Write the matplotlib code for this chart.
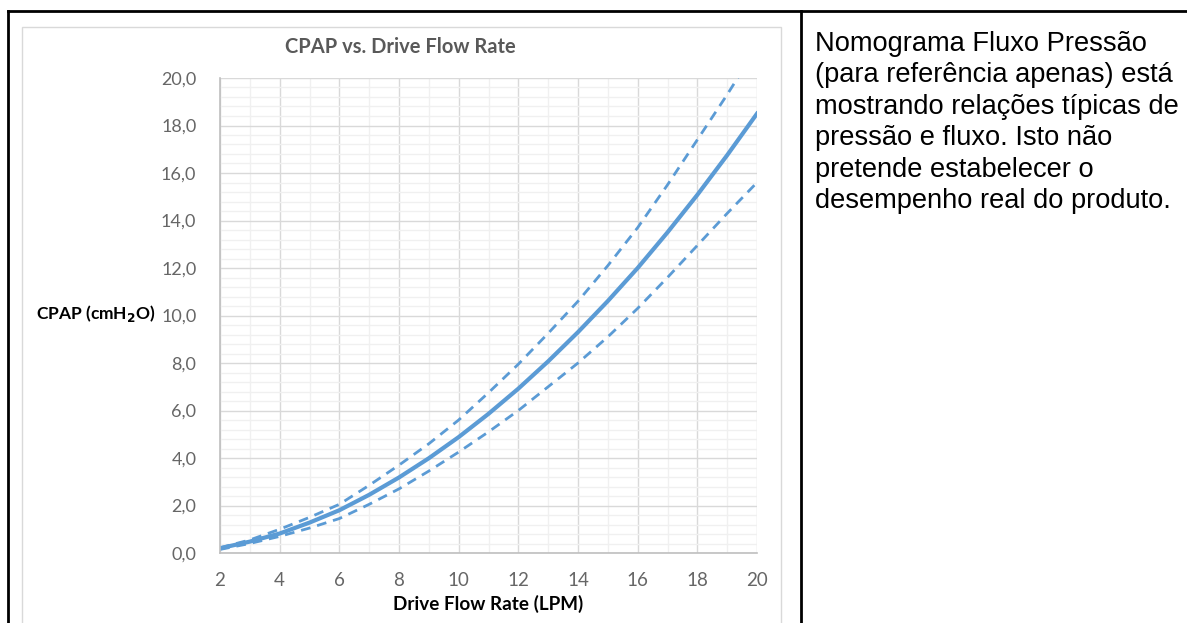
import matplotlib.pyplot as plt
from matplotlib.lines import Line2D
from matplotlib.patches import Rectangle
from matplotlib.ticker import MultipleLocator

# values (LPM -> cmH2O)
flow = [2, 3, 4, 5, 6, 7, 8, 9, 10, 11, 12, 13, 14, 15, 16, 17, 18, 19, 20]
cpap_mid = [0.2, 0.48, 0.82, 1.28, 1.8, 2.45, 3.18, 3.99, 4.88, 5.86, 6.92,
            8.07, 9.3, 10.61, 12.0, 13.5, 15.08, 16.75, 18.5]
cpap_high = [0.22, 0.55, 1.0, 1.5, 2.05, 2.85, 3.7, 4.6, 5.6, 6.75, 7.95,
             9.25, 10.6, 12.1, 13.7, 15.5, 17.4, 19.3, 21.3]
cpap_low = [0.15, 0.4, 0.7, 1.05, 1.45, 2.05, 2.7, 3.45, 4.25, 5.1, 6.0,
            7.0, 8.0, 9.1, 10.3, 11.6, 12.95, 14.3, 15.6]

x_ticks = [2, 4, 6, 8, 10, 12, 14, 16, 18, 20]
y_ticks = [0, 2, 4, 6, 8, 10, 12, 14, 16, 18, 20]
y_labels = ['0,0', '2,0', '4,0', '6,0', '8,0', '10,0', '12,0', '14,0', '16,0', '18,0', '20,0']

note = ("Nomograma Fluxo Pressão\n"
        "(para referência apenas) está\n"
        "mostrando relações típicas de\n"
        "pressão e fluxo. Isto não\n"
        "pretende estabelecer o\n"
        "desempenho real do produto.")

W, H = 1187, 623
fig = plt.figure(figsize=(W / 100, H / 100), dpi=100)
fig.patch.set_facecolor('white')

# table borders
fig.add_artist(Line2D([8 / W, 1.0], [1 - 11 / H, 1 - 11 / H], color='black', lw=2))
fig.add_artist(Line2D([8 / W, 8 / W], [0, 1 - 11 / H], color='black', lw=2))
fig.add_artist(Line2D([801 / W, 801 / W], [0, 1 - 11 / H], color='black', lw=2))

# chart panel border
fig.add_artist(Rectangle((22 / W, -0.05), (781 - 22) / W, 1 - 27 / H + 0.05,
                         transform=fig.transFigure, fill=False,
                         edgecolor='#d9d9d9', lw=1))

ax = fig.add_axes([220 / W, 1 - 553 / H, (757 - 220) / W, (553 - 78) / H])

blue = '#5b9bd5'
ax.plot(flow, cpap_high, color=blue, lw=2.0, linestyle=(0, (3.5, 2.5)))
ax.plot(flow, cpap_low, color=blue, lw=2.0, linestyle=(0, (3.5, 2.5)))
ax.plot(flow, cpap_mid, color=blue, lw=3.0)

ax.set_xlim(2, 20)
ax.set_ylim(0, 20)
ax.set_xticks(x_ticks)
ax.set_yticks(y_ticks)
ax.set_yticklabels(y_labels)
ax.xaxis.set_minor_locator(MultipleLocator(1))
ax.yaxis.set_minor_locator(MultipleLocator(0.4))

ax.grid(True, which='major', color='#d9d9d9', lw=1)
ax.grid(True, which='minor', color='#f0f0f0', lw=1)
ax.set_axisbelow(True)

for s in ['top', 'right']:
    ax.spines[s].set_visible(False)
for s in ['left', 'bottom']:
    ax.spines[s].set_color('#bfbfbf')
    ax.spines[s].set_linewidth(1.2)

ax.tick_params(which='both', length=0)
ax.tick_params(axis='y', pad=17, labelsize=13, labelcolor='#666666')
ax.tick_params(axis='x', pad=14, labelsize=13.5, labelcolor='#666666')
for lab in ax.get_xticklabels() + ax.get_yticklabels():
    lab.set_fontfamily('Lato')

fig.text(400 / W, 1 - 47 / H, 'CPAP vs. Drive Flow Rate', ha='center', va='center',
         fontsize=14.5, fontweight='bold', color='#595959', family='Lato')
fig.text(488 / W, 1 - 604 / H, 'Drive Flow Rate (LPM)', ha='center', va='center',
         fontsize=13.6, fontweight='bold', color='black', family='Lato')
fig.text(156 / W, 1 - 314 / H, r'CPAP (cmH$_\mathbf{2}$O)', ha='right', va='center',
         fontsize=12.5, fontweight='bold', color='black', family='Lato')

fig.text(815 / W, 1 - 31 / H, note, ha='left', va='top', fontsize=19.6,
         family='Liberation Sans', color='black', linespacing=1.27)

plt.savefig('out.png', dpi=100)
